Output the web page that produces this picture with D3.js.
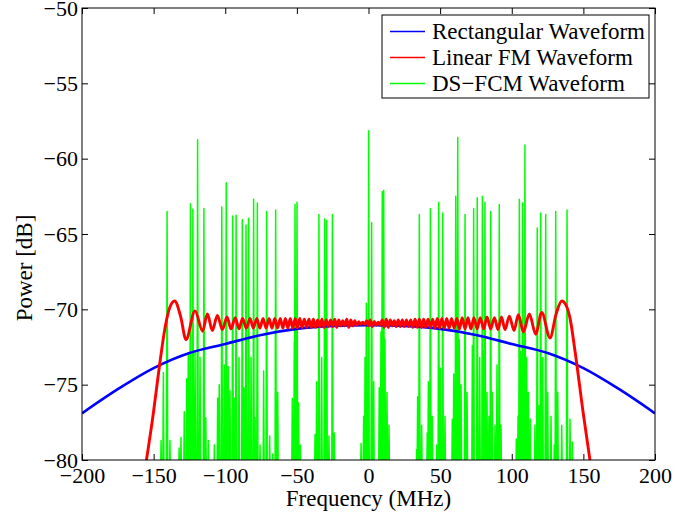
<!DOCTYPE html>
<html>
<head>
<meta charset="utf-8">
<script src="https://cdn.jsdelivr.net/npm/d3@7"></script>
<style>
  body { margin: 0; background: #fff; }
  svg text { font-family: "Liberation Serif", "Times New Roman", serif; fill: #000; }
</style>
</head>
<body>
<div id="chart"></div>
<script>
// values

const xTicks = [-200, -150, -100, -50, 0, 50, 100, 150, 200];
const yTicks = [-80, -75, -70, -65, -60, -55, -50];

// rectangular pulse spectrum (smooth hump)
const rectFreq  = [-200, -175, -150, -125, -100, -75, -50, -25, 0, 25, 50, 75, 100, 125, 150, 175, 200];
const rectPower = [-76.9, -75.3, -73.9, -72.9, -72.3, -71.7, -71.3, -71.1, -71.05, -71.1, -71.3, -71.7, -72.3, -72.9, -73.9, -75.3, -76.9];

// linear FM spectrum: edges + ripple extrema [MHz, dB]
const lfmSpectrum = [
  [-156, -80.6], [-150.2, -76.9], [-146, -73.8], [-142, -71.2], [-138.6, -69.85], [-135.3, -69.45],
  [-131.1, -70.5], [-127.4, -72.0], [-121.1, -70.1], [-115.8, -71.45], [-112.5, -70.3], [-109, -71.4],
  [-105.5, -70.4], [-102, -71.35], [-98.8, -70.5], [-96, -71.3], [-93, -70.55], [-90.4, -71.3],
  [-87.9, -70.6], [-85.3, -71.25], [-82.7, -70.6], [-80.4, -71.25], [-78, -70.6], [-75.8, -71.25],
  [-73.6, -70.6], [-71.5, -71.25], [-69.4, -70.6], [-67.4, -71.25], [-65.4, -70.6], [-63.5, -71.25],
  [-61.6, -70.6], [-59.8, -71.25], [-58, -70.6], [-56.3, -71.25], [-54.6, -70.6], [-52.9, -71.25],
  [-51.2, -70.6], [-49.6, -71.25], [-48, -70.6], [-46.4, -71.2], [-44.8, -70.65], [-43.2, -71.2],
  [-41.6, -70.65], [-40, -71.2], [-38.5, -70.65], [-37, -71.2], [-35.5, -70.7], [-34, -71.15],
  [-32.5, -70.65], [-31, -71.2], [-29.5, -70.7], [-28, -71.15], [-26.5, -70.7], [-25, -71.15],
  [-23.6, -70.65], [-22.2, -71.2], [-20.8, -70.7], [-19.4, -71.1], [-18, -70.75], [-16.6, -71.1],
  [-15.2, -70.65], [-13.8, -71.2], [-12.4, -70.7], [-11, -71.1], [-9.6, -70.75], [-8.2, -71.05],
  [-6.8, -70.82], [-5.4, -71.0], [-4, -70.85], [-2.6, -71.0], [-1.2, -70.75], [0, -71.1],
  [1.2, -70.7], [2.6, -71.15], [4, -70.8], [5.4, -71.05], [6.8, -70.85], [8.2, -71.05],
  [9.6, -70.7], [11, -71.2], [12.4, -70.65], [13.8, -71.2], [15.2, -70.7], [16.6, -71.1],
  [18, -70.75], [19.4, -71.15], [20.8, -70.7], [22.2, -71.15], [23.6, -70.7], [25, -71.15],
  [26.5, -70.7], [28, -71.15], [29.5, -70.7], [31, -71.2], [32.5, -70.65], [34, -71.2],
  [35.5, -70.65], [37, -71.2], [38.5, -70.65], [40, -71.2], [41.6, -70.65], [43.2, -71.2],
  [44.8, -70.65], [46.4, -71.25], [48, -70.6], [49.6, -71.25], [51.2, -70.6], [52.9, -71.25],
  [54.6, -70.6], [56.3, -71.25], [58, -70.6], [59.8, -71.25], [61.6, -70.6], [63.5, -71.3],
  [65.4, -70.55], [67.4, -71.3], [69.4, -70.55], [71.5, -71.3], [73.6, -70.55], [75.8, -71.3],
  [78, -70.55], [80.4, -71.3], [82.7, -70.5], [85.3, -71.3], [87.9, -70.55], [90.4, -71.35],
  [92.8, -70.5], [95.3, -71.35], [98.3, -70.45], [101.6, -71.4], [104.6, -70.35], [108.1, -71.5],
  [112.3, -70.3], [116.7, -71.65], [120.9, -70.2], [126.7, -71.9], [131, -70.3], [134.9, -69.45],
  [138, -69.75], [140.7, -70.6], [144.2, -72.8], [149.9, -76.9], [155.5, -80.6]
];

// DS-FCM: tall spectral lines [MHz, dB]
const dsfcmPeaks = [
  [-140.6, -63.5], [-124.3, -63.0], [-122.6, -63.35], [-119.3, -58.75], [-114.9, -63.3],
  [-102.4, -63.2], [-99.3, -61.6], [-94.8, -63.8], [-92.4, -63.75], [-88.1, -64.05],
  [-85.5, -64.4], [-83.7, -63.95], [-80.2, -62.7], [-77.6, -62.95], [-71.1, -63.5],
  [-64.8, -63.4], [-51.3, -63.05], [-49.9, -62.9], [-34.6, -63.7], [-30.6, -64.0],
  [-29.2, -64.1], [-25.2, -63.7], [0.1, -58.15], [2.2, -64.25], [9.6, -62.2],
  [10.6, -62.1], [35.5, -63.7], [43.2, -63.3], [49.0, -62.9], [51.8, -63.6],
  [60.9, -62.5], [62.3, -58.6], [67.4, -63.7], [73.4, -63.3], [75.9, -62.6],
  [79.5, -62.5], [81.3, -62.9], [85.3, -63.5], [91.3, -63.05], [105.3, -62.7],
  [107.6, -62.95], [109.2, -59.1], [117.8, -64.6], [120.2, -63.6], [123.7, -63.7],
  [130.7, -63.5], [138.6, -63.4]
];

// DS-FCM: low side lobes near the floor [MHz, dB]
const dsfcmLobes = [
  [-144.8, -78.7], [-143.2, -74.2], [-138.6, -78.7], [-132.2, -79.2], [-130.9, -78.5],
  [-128.6, -76.8], [-126.9, -74.6], [-125.8, -73.0], [-121.1, -72.8], [-117.6, -73.2],
  [-113.6, -77.2], [-111.8, -78.7], [-107.6, -79], [-105.3, -75.9], [-104.2, -75.0],
  [-100.7, -73.7], [-97.9, -73.8], [-96.7, -75.4], [-93.7, -75.9], [-90.4, -73.2],
  [-86.9, -75.2], [-82, -73.2], [-79.2, -77.2], [-75.7, -79], [-73.2, -74.1],
  [-69, -78.4], [-66.9, -79.6], [-63.4, -75.5], [-53.2, -75.9], [-51.8, -72.1],
  [-48.9, -76.2], [-47.6, -79], [-37.3, -78.3], [-36.2, -74.8], [-32.7, -73.2],
  [-27.6, -78.4], [-23.9, -78.2], [-5.2, -78.9], [-3.4, -77.1], [-2.4, -73.2],
  [-1.5, -69.6], [3.6, -74.8], [7.5, -75.2], [8.7, -71.5], [11.5, -72],
  [12.9, -75.5], [14.3, -77.7], [33.6, -79.3], [34.3, -75.8], [37.1, -77.7],
  [41, -78.2], [41.8, -74.8], [44.5, -77.1], [47.6, -79], [50.1, -73.9],
  [53.4, -77.1], [58.5, -77.3], [59.5, -74.3], [63.4, -72], [64.6, -75],
  [68.8, -75.5], [72.5, -72.4], [77.6, -73.2], [80.4, -72.8], [82.7, -75.5],
  [84.1, -77.1], [86.4, -75.5], [88.3, -77.7], [89.7, -73.7], [92.5, -77.7],
  [103.2, -78.6], [104.4, -77.1], [106.2, -72.8], [110.4, -73.2], [111.6, -75.5],
  [113, -77.3], [116.2, -77.7], [119.2, -76.4], [121.6, -73.2], [125.1, -75.5],
  [127.4, -77.1], [129.7, -79], [132.1, -75.5], [134.9, -77.7], [140.7, -77.3],
  [142.3, -78.8]
];

const legendLabels = ['Rectangular Waveform', 'Linear FM Waveform', 'DS\u2212FCM Waveform'];
const legendColors = ['#0000ff', '#ff0000', '#00ff00'];

const width = 697, height = 516;
const margin = {top: 8, right: 42, bottom: 56, left: 82};

const x = d3.scaleLinear().domain([-200, 200]).range([margin.left, width - margin.right]);
const y = d3.scaleLinear().domain([-80, -50]).range([height - margin.bottom, margin.top]);

const svg = d3.select('#chart')
              .append('svg')
              .attr('width', width)
              .attr('height', height);

svg.append('defs').append('clipPath')
   .attr('id', 'plot-clip')
   .append('rect')
   .attr('x', margin.left)
   .attr('y', margin.top)
   .attr('width', width - margin.left - margin.right)
   .attr('height', height - margin.top - margin.bottom);

// ticks, pointing inward, on all four sides
const tick = 6;
const axes = [
  d3.axisBottom(x).tickValues(xTicks).tickSizeInner(-tick).tickSizeOuter(0).tickPadding(7),
  d3.axisTop(x).tickValues(xTicks).tickSizeInner(-tick).tickSizeOuter(0).tickFormat(''),
  d3.axisLeft(y).tickValues(yTicks).tickSizeInner(-tick).tickSizeOuter(0).tickPadding(4),
  d3.axisRight(y).tickValues(yTicks).tickSizeInner(-tick).tickSizeOuter(0).tickFormat('')
];
const offsets = [
  [0, height - margin.bottom], [0, margin.top], [margin.left, 0], [width - margin.right, 0]
];
axes.forEach((ax, i) => {
  const g = svg.append('g')
               .attr('transform', `translate(${offsets[i][0]},${offsets[i][1]})`)
               .call(ax);
  g.select('.domain').remove();
  g.selectAll('line').attr('stroke', '#000');
  g.selectAll('text').attr('font-size', 22).attr('font-family', '"Liberation Serif", serif');
});

const plot = svg.append('g').attr('clip-path', 'url(#plot-clip)');

// DS-FCM spectral lines
const floorDb = -82;
const spikes = dsfcmPeaks.concat(dsfcmLobes).sort((a, b) => a[0] - b[0]);
const greenPts = [];
spikes.forEach(d => {
  greenPts.push([d[0] - 0.45, floorDb], [d[0], d[1]], [d[0] + 0.45, floorDb]);
});
plot.append('path')
    .datum(greenPts)
    .attr('fill', 'none')
    .attr('stroke', '#00ff00')
    .attr('stroke-width', 1.5)
    .attr('stroke-linejoin', 'round')
    .attr('d', d3.line().x(d => x(d[0])).y(d => y(d[1])));

// rectangular waveform
plot.append('path')
    .datum(rectFreq.map((f, i) => [f, rectPower[i]]))
    .attr('fill', 'none')
    .attr('stroke', '#0000ff')
    .attr('stroke-width', 2.7)
    .attr('d', d3.line().curve(d3.curveCatmullRom).x(d => x(d[0])).y(d => y(d[1])));

// linear FM waveform
plot.append('path')
    .datum(lfmSpectrum)
    .attr('fill', 'none')
    .attr('stroke', '#ff0000')
    .attr('stroke-width', 2.9)
    .attr('stroke-linejoin', 'round')
    .attr('d', d3.line().curve(d3.curveMonotoneX).x(d => x(d[0])).y(d => y(d[1])));

// frame
svg.append('rect')
   .attr('x', margin.left)
   .attr('y', margin.top)
   .attr('width', width - margin.left - margin.right)
   .attr('height', height - margin.top - margin.bottom)
   .attr('fill', 'none')
   .attr('stroke', '#000')
   .attr('stroke-width', 1);

// axis labels
svg.append('text')
   .attr('x', (margin.left + width - margin.right) / 2)
   .attr('y', 506)
   .attr('text-anchor', 'middle')
   .attr('font-size', 23)
   .text('Frequency (MHz)');

svg.append('text')
   .attr('transform', 'translate(32,268) rotate(-90)')
   .attr('text-anchor', 'middle')
   .attr('font-size', 23)
   .text('Power [dB]');

// legend
const legendItems = legendLabels.map((label, i) => ({label: label, color: legendColors[i]}));
const legend = svg.append('g').attr('transform', 'translate(382,15)');
legend.append('rect')
      .attr('width', 267)
      .attr('height', 83)
      .attr('fill', '#fff')
      .attr('stroke', '#000')
      .attr('stroke-width', 1);
const rows = legend.selectAll('g.row')
                   .data(legendItems)
                   .enter().append('g')
                   .attr('class', 'row')
                   .attr('transform', (d, i) => `translate(0,${16.5 + i * 26})`);
rows.append('line')
    .attr('x1', 8).attr('x2', 43)
    .attr('y1', 0).attr('y2', 0)
    .style('stroke', d => d.color)
    .attr('stroke-width', 1.3);
rows.append('text')
    .attr('x', 50)
    .attr('dy', '0.33em')
    .attr('font-size', 23)
    .text(d => d.label);
</script>
</body>
</html>
